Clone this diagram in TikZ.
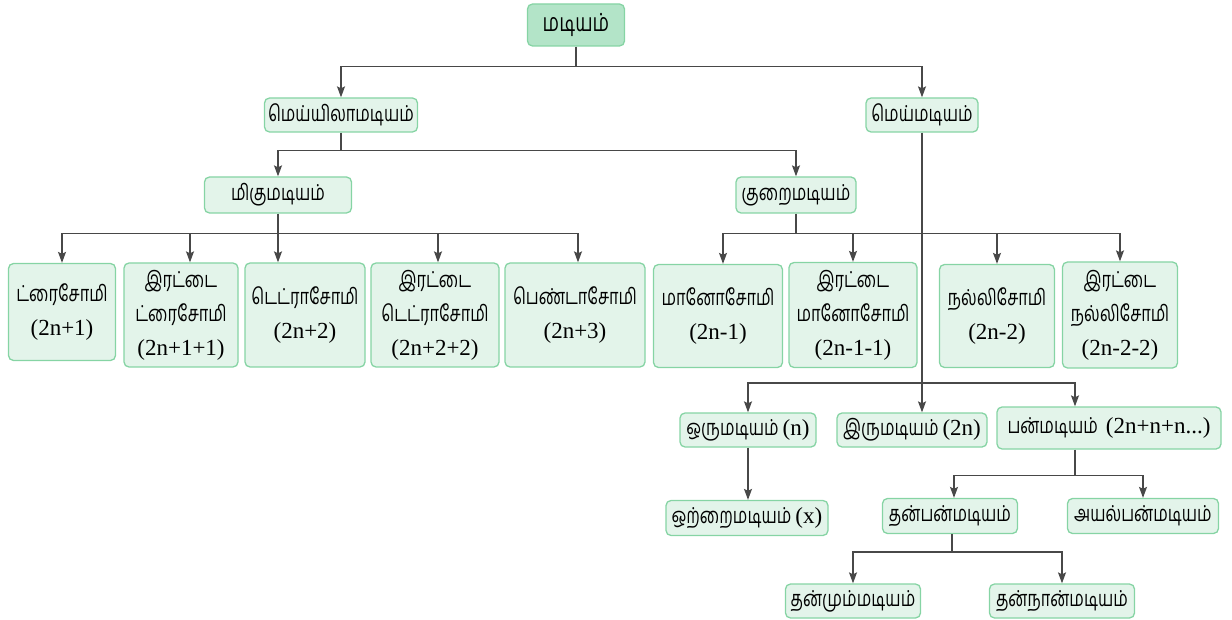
\documentclass[tikz,border=0pt]{standalone}
\usepackage{fontspec}
\usepackage{tikz}
\usetikzlibrary{arrows.meta}
\setmainfont{Liberation Serif}
\newfontfamily\tam[Script=Tamil,FakeStretch=0.74]{Hind Madurai}

\definecolor{boxfill}{HTML}{E3F4EA}
\definecolor{boxline}{HTML}{86D4A4}
\definecolor{rootfill}{HTML}{B3E4C8}
\definecolor{wire}{HTML}{484848}

\tikzset{
	box/.style={draw=boxline, fill=boxfill, rounded corners=5pt, line width=1.3pt,
		align=center, inner sep=1pt, font=\tam\fontsize{22}{34}\selectfont},
	wirearrow/.style={draw=wire, line width=1.4pt, -{Stealth[length=11pt,width=8pt,inset=2pt]}},
	wireline/.style={draw=wire, line width=1.4pt}
}
\newcommand{\rmp}[1]{{\rmfamily\fontsize{23}{34}\selectfont #1}}

\begin{document}
\begin{tikzpicture}[x=1pt,y=-1pt]
	\useasboundingbox (0,0) rectangle (1232,620);

	% top levels
	\node[box, fill=rootfill, minimum width=97pt, minimum height=42pt, font=\tam\fontsize{25}{30}\selectfont] (root) at (576,25) {மடியம்};
	\node[box, minimum width=153pt, minimum height=34pt] (meyyila) at (341,115) {மெய்யிலாமடியம்};
	\node[box, minimum width=112pt, minimum height=34pt] (mey) at (922,115) {மெய்மடியம்};
	\node[box, minimum width=147pt, minimum height=36pt] (migu) at (278,195) {மிகுமடியம்};
	\node[box, minimum width=120pt, minimum height=36pt] (kurai) at (796,195) {குறைமடியம்};

	% somy row
	\node[box, minimum width=107pt, minimum height=97pt] (tri) at (62,312) {ட்ரைசோமி\\\rmp{(2n+1)}};
	\node[box, minimum width=114pt, minimum height=104pt] (dtri) at (181,315) {இரட்டை\\ட்ரைசோமி\\\rmp{(2n+1+1)}};
	\node[box, minimum width=120pt, minimum height=104pt] (tetra) at (305,315) {டெட்ராசோமி\\\rmp{(2n+2)}};
	\node[box, minimum width=128pt, minimum height=104pt] (dtetra) at (435,315) {இரட்டை\\டெட்ராசோமி\\\rmp{(2n+2+2)}};
	\node[box, minimum width=140pt, minimum height=104pt] (penta) at (575,315) {பெண்டாசோமி\\\rmp{(2n+3)}};
	\node[box, minimum width=129pt, minimum height=103pt] (mono) at (718,316) {மானோசோமி\\\rmp{(2n-1)}};
	\node[box, minimum width=128pt, minimum height=105pt] (dmono) at (853,315) {இரட்டை\\மானோசோமி\\\rmp{(2n-1-1)}};
	\node[box, minimum width=115pt, minimum height=103pt] (nulli) at (997,316) {நல்லிசோமி\\\rmp{(2n-2)}};
	\node[box, minimum width=115pt, minimum height=106pt] (dnulli) at (1120,315) {இரட்டை\\நல்லிசோமி\\\rmp{(2n-2-2)}};

	% euploidy
	\node[box, minimum width=136pt, minimum height=34pt] (oru) at (748,430) {ஒருமடியம் \rmp{(n)}};
	\node[box, minimum width=150pt, minimum height=34pt] (iru) at (912,430) {இருமடியம் \rmp{(2n)}};
	\node[box, minimum width=224pt, minimum height=42pt] (pan) at (1109,428) {பன்மடியம்\ \ \rmp{(2n+n+n...)}};
	\node[box, minimum width=162pt, minimum height=35pt] (otrai) at (747,518) {ஒற்றைமடியம் \rmp{(x)}};
	\node[box, minimum width=135pt, minimum height=35pt] (tanpan) at (950,516) {தன்பன்மடியம்};
	\node[box, minimum width=151pt, minimum height=35pt] (ayal) at (1143,516) {அயல்பன்மடியம்};
	\node[box, minimum width=135pt, minimum height=34pt] (tanmum) at (853,601) {தன்மும்மடியம்};
	\node[box, minimum width=145pt, minimum height=34pt] (tannan) at (1062,601) {தன்நான்மடியம்};

	% connectors
	\draw[wireline] (root.south) -- ++(0,20) coordinate (j1);
	\draw[wirearrow] (j1) -| (meyyila.north);
	\draw[wirearrow] (j1) -| (mey.north);

	\draw[wireline] (meyyila.south) -- ++(0,18) coordinate (j2);
	\draw[wirearrow] (j2) -| (migu.north);
	\draw[wirearrow] (j2) -| (kurai.north);

	\draw[wireline] (migu.south) -- ++(0,20) coordinate (j3);
	\draw[wirearrow] (j3) -| (tri.north);
	\draw[wirearrow] (j3) -| ([xshift=9pt]dtri.north);
	\draw[wirearrow] (j3) -- (tetra.north -| j3);
	\draw[wirearrow] (j3) -| ([xshift=3pt]dtetra.north);
	\draw[wirearrow] (j3) -| ([xshift=3pt]penta.north);

	\draw[wireline] (kurai.south) -- ++(0,20) coordinate (j4);
	\draw[wirearrow] (j4) -| ([xshift=5pt]mono.north);
	\draw[wirearrow] (j4) -| (dmono.north);
	\draw[wirearrow] (j4) -| (nulli.north);
	\draw[wirearrow] (j4) -| (dnulli.north);

	\draw[wirearrow] (mey.south) -- (mey.south |- iru.north);
	\coordinate (j5) at (mey.south |- 0,383);
	\draw[wirearrow] (j5) -| (oru.north);
	\draw[wirearrow] (j5) -| ([xshift=-34pt]pan.north);
	\draw[wirearrow] (oru.south) -- (otrai.north -| oru.south);

	\draw[wireline] ([xshift=-34pt]pan.south) -- ++(0,26) coordinate (j6);
	\draw[wirearrow] (j6) -| ([xshift=4pt]tanpan.north);
	\draw[wirearrow] (j6) -| (ayal.north);

	\draw[wireline] ([xshift=2pt]tanpan.south) -- ++(0,18) coordinate (j7);
	\draw[wirearrow] (j7) -| (tanmum.north);
	\draw[wirearrow] (j7) -| (tannan.north);
\end{tikzpicture}
\end{document}
